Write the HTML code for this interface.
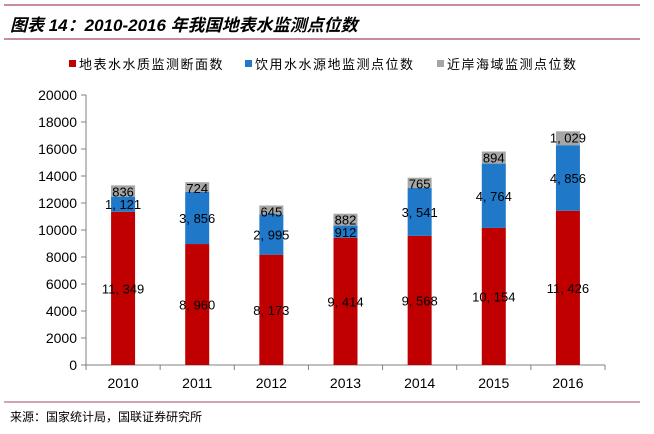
<!DOCTYPE html>
<html><head><meta charset="utf-8"><style>
body{margin:0;background:#fff;width:654px;height:429px;overflow:hidden;font-family:"Liberation Sans","Noto Sans CJK SC",sans-serif}
svg text{font-family:"Liberation Sans","Noto Sans CJK SC",sans-serif}
</style></head><body>
<svg id="c" width="654" height="429">
<line x1="4" y1="5" x2="640" y2="5" stroke="#a8466e" stroke-width="1.2"/>
<text x="10" y="31" font-size="17" font-weight="bold" font-style="italic" fill="#000">图表 14：2010-2016 年我国地表水监测点位数</text>
<line x1="4" y1="39" x2="640" y2="39" stroke="#a8466e" stroke-width="1.2"/>
<line x1="4" y1="402" x2="640" y2="402" stroke="#a8466e" stroke-width="1"/>
<text x="10" y="421" font-size="12" fill="#000">来源：国家统计局，国联证券研究所</text>
<g id="legend">
<rect x="69" y="60" width="7" height="7" fill="#c00000"/>
<text x="79" y="69" font-size="13" letter-spacing="1.5">地表水水质监测断面数</text>
<rect x="245" y="60" width="7" height="7" fill="#1f78c8"/>
<text x="255" y="69" font-size="13" letter-spacing="1.5">饮用水水源地监测点位数</text>
<rect x="437" y="60" width="7" height="7" fill="#a6a6a6"/>
<text x="447" y="69" font-size="13" letter-spacing="1.5">近岸海域监测点位数</text>
</g>
<g id="plot"></g>
</svg>
<script>
const categories=['2010','2011','2012','2013','2014','2015','2016'];
const surface=[11349,8960,8173,9414,9568,10154,11426];
const drinking=[1121,3856,2995,912,3541,4764,4856];
const coastal=[836,724,645,882,765,894,1029];
const yTicks=[0,2000,4000,6000,8000,10000,12000,14000,16000,18000,20000];
const NS='http://www.w3.org/2000/svg';
const plot=document.getElementById('plot');
const x0=86,x1=605,y0=365,y1=95,yMax=20000;
const bw=(x1-x0)/categories.length, barW=24;
function y(v){return y0-(v/yMax)*(y0-y1);}
function xc(i){return x0+bw*(i+0.5);}
function mk(tag,attrs){const e=document.createElementNS(NS,tag);for(const k in attrs)e.setAttribute(k,attrs[k]);plot.appendChild(e);return e;}
function fmt(v){return v>=1000?Math.floor(v/1000)+', '+String(v%1000).padStart(3,'0'):String(v);}
let ax=mk('line',{x1:x0,y1:y1,x2:x0,y2:y0,stroke:'#808080'});


yTicks.forEach(t=>{
 let l=mk('line',{x1:x0-5,y1:y(t),x2:x0,y2:y(t),stroke:'#808080'});
 
 
 let tx=mk('text',{x:x0-9,y:y(t)+5,'font-size':14,'text-anchor':'end',fill:'#000'});
 tx.textContent=t;
 
 
});
let xa=mk('line',{x1:x0,y1:y0,x2:x1,y2:y0,stroke:'#808080'});


for(let i=0;i<=categories.length;i++){
 let l=mk('line',{x1:x0+bw*i,y1:y0,x2:x0+bw*i,y2:y0+5,stroke:'#808080'});
 
 
}
const series=[[surface,'#c00000','surface'],[drinking,'#1f78c8','drinking'],[coastal,'#a6a6a6','coastal']];
categories.forEach((c,i)=>{
 let base=0;
 series.forEach(([arr,col,nm])=>{
  const v=arr[i];
  let r=mk('rect',{x:xc(i)-barW/2,y:y(base+v),width:barW,height:y(base)-y(base+v),fill:col});
  
  
  let ly=nm==='coastal'?y(base+v)+11:(y(base)+y(base+v))/2+5;
  let t=mk('text',{x:xc(i),y:ly,'font-size':13,'text-anchor':'middle',fill:'#000'});
  t.textContent=fmt(v);
  
  
  base+=v;
 });
 let t=mk('text',{x:xc(i),y:y0+23,'font-size':14,'text-anchor':'middle',fill:'#000'});
 t.textContent=c;
 
 
});
</script>
</body></html>
